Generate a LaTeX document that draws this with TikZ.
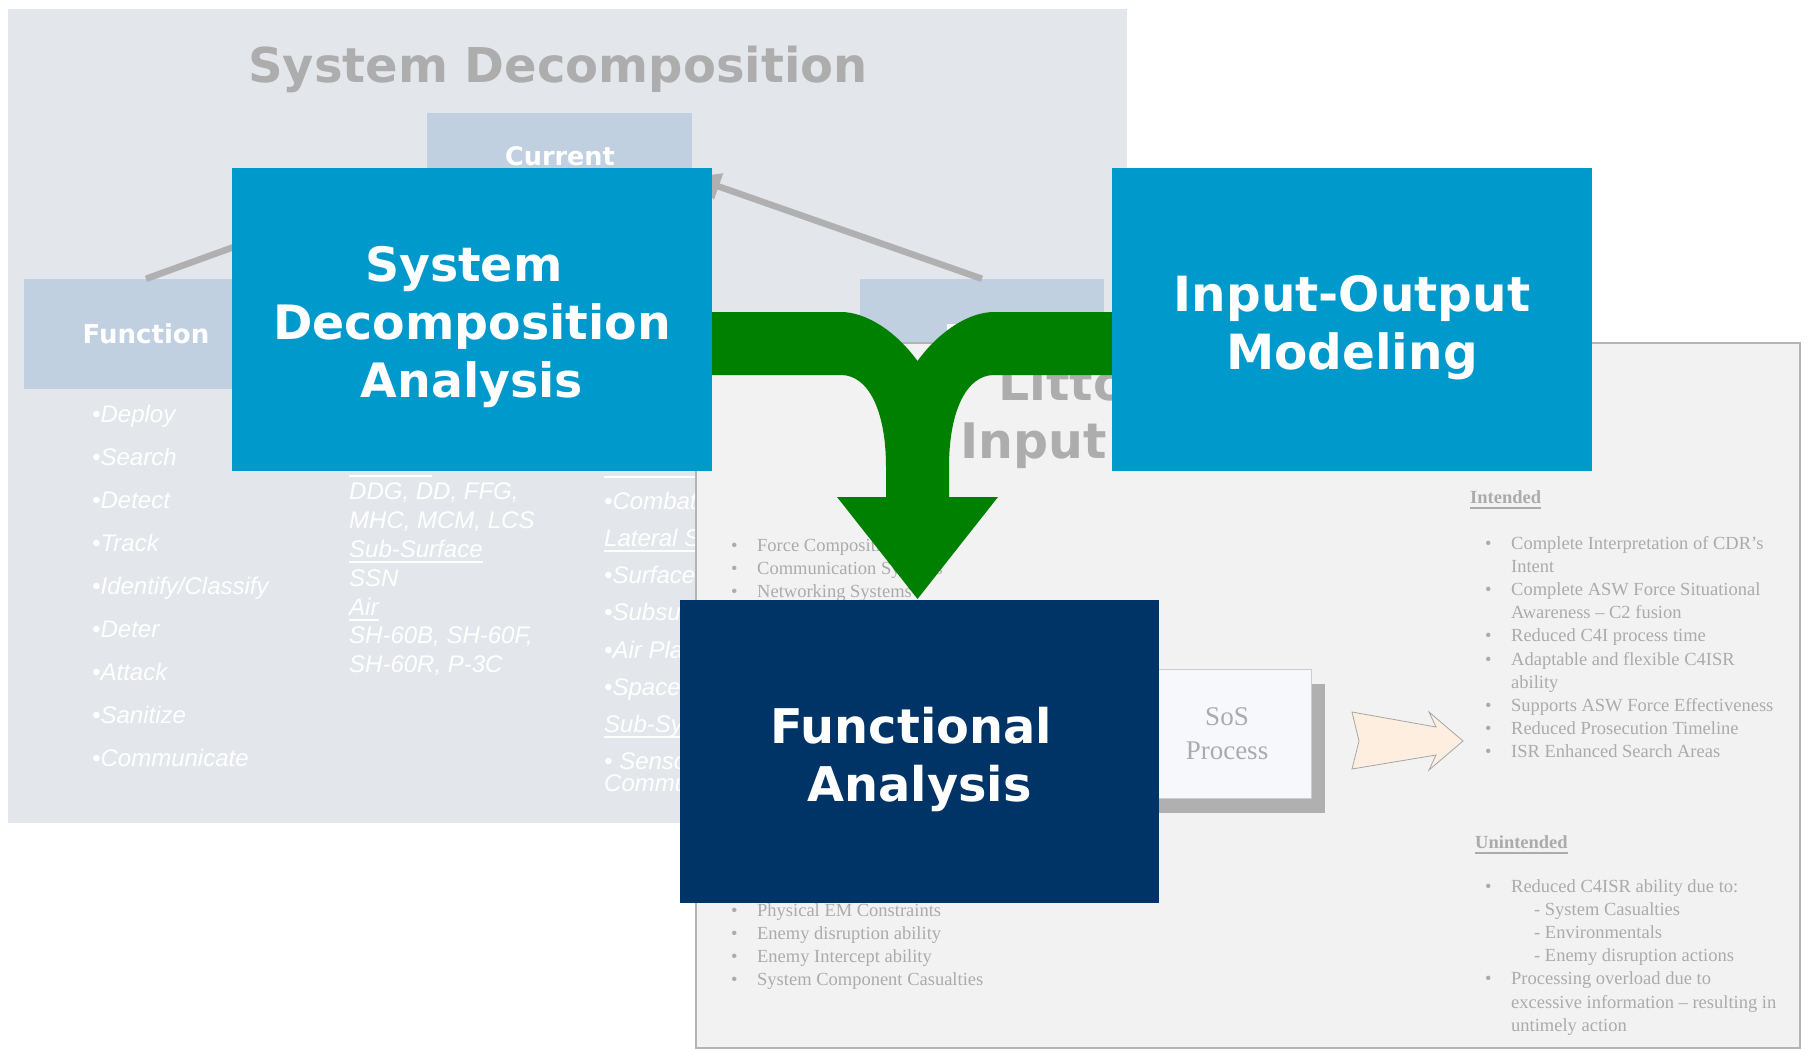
\documentclass[tikz,border=0pt]{standalone}
\usepackage{fontspec}
\setmainfont{Liberation Serif}
\newfontfamily\headfont{DejaVu Sans}
\newfontfamily\listfont{Liberation Sans}
\usetikzlibrary{arrows.meta}

\definecolor{panelgrey}{HTML}{E3E6EB}
\definecolor{headblue}{HTML}{C0D0E1}
\definecolor{titlegrey}{HTML}{ADADAD}
\definecolor{linkgrey}{HTML}{B0B0B0}
\definecolor{slidegrey}{HTML}{F2F2F2}
\definecolor{framegrey}{HTML}{B4B4B4}
\definecolor{textgrey}{HTML}{ABABAB}
\definecolor{boxblue}{HTML}{0099CC}
\definecolor{boxnavy}{HTML}{003366}
\definecolor{flowgreen}{HTML}{008000}
\definecolor{peach}{HTML}{FDEEE0}
\definecolor{sosfill}{HTML}{F7F8FC}

% underlined headings
\newcommand{\uword}[1]{\leavevmode\setbox0=\hbox{#1}\rlap{\rule[-5.5pt]{\wd0}{1.6pt}}\box0}

\begin{document}
\begin{tikzpicture}[x=1pt,y=-1pt]

\tikzset{bigbox/.style    = {minimum width=480pt, minimum height=303pt, inner sep=0pt},
         bigtext/.style   = {text=white, align=center, inner sep=0pt, yshift=-8pt,
                             font=\headfont\bfseries\fontsize{47.4}{58}\selectfont},
         headbox/.style   = {fill=headblue, minimum width=244pt, minimum height=110pt,
                             inner sep=0pt, text=white,
                             font=\headfont\bfseries\fontsize{26}{30}\selectfont},
         link/.style      = {draw=linkgrey, line width=6.5pt,
                             -{Triangle[length=28pt,width=26pt]}},
         colitems/.style  = {text=white, anchor=base west, inner sep=0pt},
         slidetitle/.style= {text=titlegrey, anchor=base west, inner sep=0pt,
                             font=\headfont\bfseries\fontsize{49}{56}\selectfont},
         slidetext/.style = {text=textgrey, anchor=base west, inner sep=0pt,
                             font=\fontsize{18.5}{23.2}\selectfont}}

\fill[white] (0,0) rectangle (1807,1052);
\useasboundingbox (0,0) rectangle (1807,1052);

%%% first slide : decomposition tree
\fill[panelgrey] (8,9) rectangle (1127,823);
\node[text=titlegrey, anchor=base, inner sep=0pt,
      font=\headfont\bfseries\fontsize{48}{58}\selectfont] (sdtitle) at (558,82) {System Decomposition};

\node[headbox, minimum width=265pt, minimum height=64pt] (cur) at (559.5,145) {};
\node[text=white, anchor=base, inner sep=0pt,
      font=\headfont\bfseries\fontsize{25.5}{30}\selectfont] (curlabel) at (560,165) {Current};
\node[headbox] (fn)   at (146,334) {Function};
\node[headbox] (form) at (982,334) {Form};

\draw[link] (fn.north)   -- (cur.south west);
\draw[link] (form.north) -- (cur.south east);

\node[colitems, font=\listfont\itshape\fontsize{24}{43}\selectfont] (funclist) at (92,422)
  {\begin{tabular}[t]{@{}l@{}}
   \textbullet Deploy\\ \textbullet Search\\ \textbullet Detect\\ \textbullet Track\\
   \textbullet Identify/Classify\\ \textbullet Deter\\ \textbullet Attack\\
   \textbullet Sanitize\\ \textbullet Communicate
   \end{tabular}};

\node[colitems, font=\listfont\itshape\fontsize{24}{28.8}\selectfont] (shiplist) at (349,471)
  {\begin{tabular}[t]{@{}l@{}}
   \uword{\phantom{Surface}}\\ DDG, DD, FFG,\\ MHC, MCM, LCS\\ \uword{Sub-Surface}\\ SSN\\
   \uword{Air}\\ SH-60B, SH-60F,\\ SH-60R, P-3C
   \end{tabular}};

%%% third column runs under the second slide
\node[colitems, font=\listfont\itshape\fontsize{24}{37.2}\selectfont] (syslist) at (604,472)
  {\begin{tabular}[t]{@{}l@{}}
   \uword{\phantom{Platforms}}\\ \textbullet Combat\\ \uword{Lateral S}\\
   \textbullet Surface\\ \textbullet Subsur\\ \textbullet Air Pla\\
   \textbullet Space\\ \uword{Sub-Sy}\\ \textbullet{} Sensor\\[-15.2pt]
   Commu
   \end{tabular}};

%%% second slide : inputs and outputs
\draw[fill=slidegrey, draw=framegrey, line width=2.5pt] (696,343) rectangle (1800,1048);
\node[slidetitle] (littitle) at (998,400) {Littoral};
\node[slidetitle] (intitle)  at (960,458) {Input};

\node[slidetext] (inlist) at (731,551)
  {\begin{tabular}[t]{@{}l@{\hspace{19.5pt}}l@{}}
   \textbullet & Force Composition\\
   \textbullet & Communication Systems\\
   \textbullet & Networking Systems
   \end{tabular}};
\node[slidetext, font=\fontsize{18.5}{23.3}\selectfont] (limitlist) at (731,916)
  {\begin{tabular}[t]{@{}l@{\hspace{19.5pt}}l@{}}
   \textbullet & Physical EM Constraints\\
   \textbullet & Enemy disruption ability\\
   \textbullet & Enemy Intercept ability\\
   \textbullet & System Component Casualties
   \end{tabular}};

\node[fill=linkgrey, minimum width=168pt, minimum height=129pt] (sosshadow) at (1241,748.5) {};
\node[fill=sosfill, draw=black!20, line width=1pt, minimum width=168pt, minimum height=129pt,
      inner sep=0pt, text=textgrey, align=center, font=\fontsize{27}{34}\selectfont]
      (sos) at (1227,733.5) {SoS\\Process};

\draw[fill=peach, draw=black!35, line width=0.8pt]
  (1352,712) -- (1436,727) -- (1429,712) -- (1463,741) -- (1429,770)
  -- (1436,755) -- (1352,769) -- (1359,741) -- cycle;

\node[slidetext] (intendhead) at (1470,503) {\textbf{\uword{Intended}}};
\node[slidetext] (intendlist) at (1485,549)
  {\begin{tabular}[t]{@{}l@{\hspace{19.5pt}}l@{}}
   \textbullet & Complete Interpretation of CDR’s\\
               & Intent\\
   \textbullet & Complete ASW Force Situational\\
               & Awareness – C2 fusion\\
   \textbullet & Reduced C4I process time\\
   \textbullet & Adaptable and flexible C4ISR\\
               & ability\\
   \textbullet & Supports ASW Force Effectiveness\\
   \textbullet & Reduced Prosecution Timeline\\
   \textbullet & ISR Enhanced Search Areas
   \end{tabular}};

\node[slidetext] (unintendhead) at (1475,848) {\textbf{\uword{Unintended}}};
\node[slidetext] (unintendlist) at (1485,892)
  {\begin{tabular}[t]{@{}l@{\hspace{19.5pt}}l@{}}
   \textbullet & Reduced C4ISR ability due to:\\
               & \hspace{23pt}- System Casualties\\
               & \hspace{23pt}- Environmentals\\
               & \hspace{23pt}- Enemy disruption actions\\
   \textbullet & Processing overload due to\\
               & excessive information – resulting in\\
               & untimely action
   \end{tabular}};

%%% merging arrow
\fill[flowgreen] (705,312) -- (841,312) .. controls (865,312) and (895,330) .. (917.5,361)
  .. controls (940,330) and (970,312) .. (994,312) -- (1120,312) -- (1120,375) -- (994,375)
  .. controls (967,375) and (949,410) .. (949,467) -- (949,497) -- (998,497) -- (917.5,599)
  -- (837,497) -- (886,497) -- (886,467) .. controls (886,410) and (868,375) .. (841,375)
  -- (705,375) -- cycle;

%%% the three analyses
\node[bigbox, fill=boxblue] (sda) at (472,319.5) {};
\node[bigtext] (sdalabel) at (sda.center) {\mbox{System\hspace{16.5pt}}\\Decomposition\\Analysis};

\node[bigbox, fill=boxblue] (iom) at (1352,319.5) {};
\node[bigtext, font=\headfont\bfseries\fontsize{48.5}{58}\selectfont] (iomlabel) at (iom.center) {Input-Output\\Modeling};

\node[bigbox, fill=boxnavy, minimum width=479pt] (fa) at (919.5,751.5) {};
\node[bigtext, font=\headfont\bfseries\fontsize{47.8}{58}\selectfont] (falabel) at (fa.center) {\mbox{Functional\hspace{16.6pt}}\\Analysis};

\end{tikzpicture}
\end{document}
